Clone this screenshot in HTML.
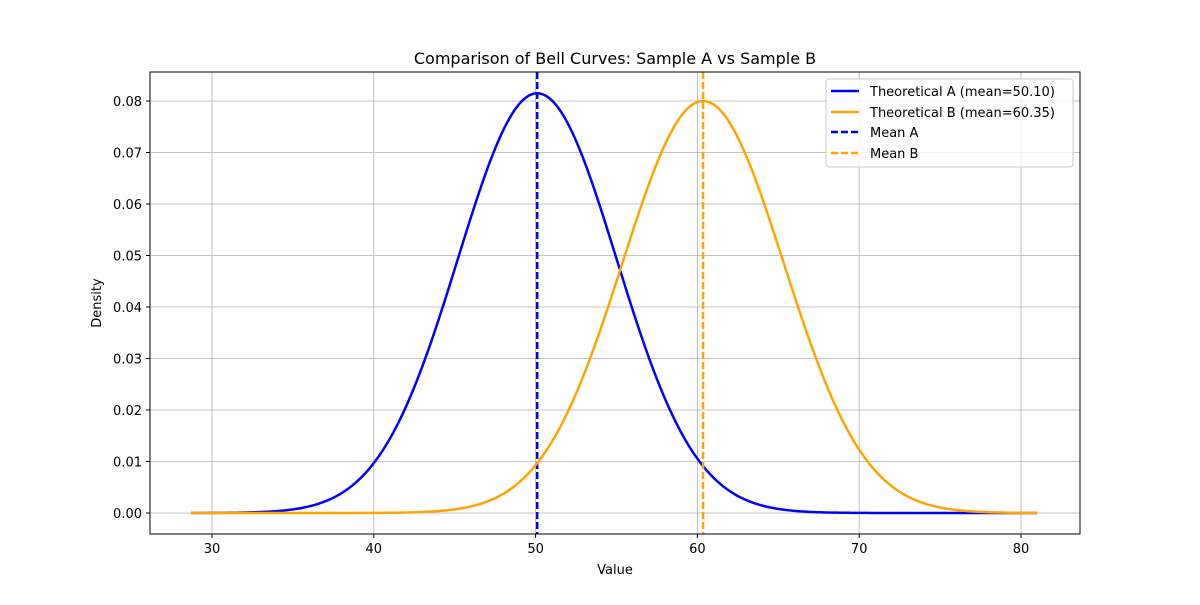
<!DOCTYPE html>
<html><head><meta charset="utf-8"><style>
body{margin:0;background:#fff}
svg text{font-family:"DejaVu Sans","Liberation Sans",sans-serif;fill:#000}
</style></head><body>
<svg id="chart" width="1200" height="600">
<rect width="1200" height="600" fill="#fff"/>
<g id="grid"></g><g id="plot"></g><g id="axes"></g>
<text x="615" y="64" font-size="16" text-anchor="middle">Comparison of Bell Curves: Sample A vs Sample B</text>
<text x="615" y="574" font-size="13" text-anchor="middle">Value</text>
<text transform="translate(101,303) rotate(-90)" font-size="13" text-anchor="middle">Density</text>
<g>
<rect x="826" y="79" width="247" height="88" fill="#fff" fill-opacity="0.8" stroke="#ccc" rx="3"/>
<line x1="831" y1="91" x2="859" y2="91" stroke="blue" stroke-width="2.5"/>
<text x="870" y="96" font-size="13">Theoretical A (mean=50.10)</text>
<line x1="831" y1="112" x2="859" y2="112" stroke="orange" stroke-width="2.5"/>
<text x="870" y="117" font-size="13">Theoretical B (mean=60.35)</text>
<line x1="831" y1="132" x2="859" y2="132" stroke="blue" stroke-width="2.5" stroke-dasharray="7,3"/>
<text x="870" y="137" font-size="13">Mean A</text>
<line x1="831" y1="153" x2="859" y2="153" stroke="orange" stroke-width="2.5" stroke-dasharray="7,3"/>
<text x="870" y="158" font-size="13">Mean B</text>
</g>
</svg>
<script>
const seriesNames=["A","B"];
const means=[50.10,60.35];
const sigmas=[4.895,4.987];
const colors=["blue","orange"];
const xRange=[28.7,81.0];
const xTicks=[30,40,50,60,70,80];
const yTicks=[0,0.01,0.02,0.03,0.04,0.05,0.06,0.07,0.08];
const L=150,R=1080,T=72,B=534;
const xs=v=>212+(v-30)*16.18;
const ys=v=>513-v*5150;
const NS="http://www.w3.org/2000/svg";
function mk(p,t,a){const e=document.createElementNS(NS,t);for(const k in a)e.setAttribute(k,a[k]);p.appendChild(e);return e;}
const grid=document.getElementById('grid'),plot=document.getElementById('plot'),axes=document.getElementById('axes');
xTicks.forEach(t=>{const x=xs(t);
const g=mk(grid,'line',{x1:x,x2:x,y1:T,y2:B,stroke:'#b0b0b0','stroke-width':0.8});


mk(axes,'line',{x1:x,x2:x,y1:B,y2:B+4,stroke:'#000'});
const tx=mk(axes,'text',{x:x,y:B+19,'font-size':13,'text-anchor':'middle'});tx.textContent=t;

});
yTicks.forEach(t=>{const y=ys(t);
const g=mk(grid,'line',{x1:L,x2:R,y1:y,y2:y,stroke:'#b0b0b0','stroke-width':0.8});


mk(axes,'line',{x1:L-4,x2:L,y1:y,y2:y,stroke:'#000'});
const tx=mk(axes,'text',{x:L-8,y:y+5,'font-size':13,'text-anchor':'end'});tx.textContent=t.toFixed(2);

});
mk(axes,'rect',{x:L,y:T,width:R-L,height:B-T,fill:'none',stroke:'#000','stroke-width':1});
seriesNames.forEach((n,i)=>{let d='';
for(let k=0;k<=300;k++){const v=xRange[0]+(xRange[1]-xRange[0])*k/300;
const p=Math.exp(-0.5*((v-means[i])/sigmas[i])**2)/(sigmas[i]*Math.sqrt(2*Math.PI));
d+=(k?'L':'M')+xs(v).toFixed(2)+','+ys(p).toFixed(2);}
const c=mk(plot,'path',{d:d,fill:'none',stroke:colors[i],'stroke-width':2.5});


const m=mk(plot,'line',{x1:xs(means[i]),x2:xs(means[i]),y1:T,y2:B,stroke:colors[i],'stroke-width':2.5,'stroke-dasharray':'7,3'});

});
</script>
</body></html>
